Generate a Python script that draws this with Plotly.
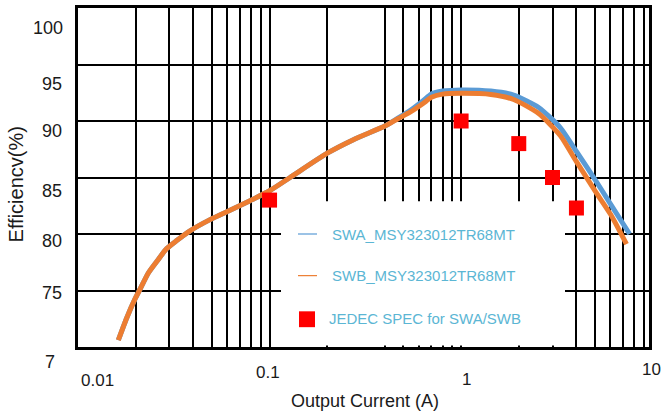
import math
import plotly.graph_objects as go

# ---- measured efficiency curves (output current in A, efficiency in %) ----
swb_current = [0.01623, 0.01796, 0.01985, 0.02108, 0.02329, 0.02576, 0.02905, 0.03277,
               0.03845, 0.04891, 0.06219, 0.07911, 0.1006, 0.128, 0.2, 0.274,
               0.4, 0.468, 0.544, 0.633, 0.7, 0.8, 1.0, 1.43, 1.88, 2.54,
               3.3, 4.0, 5.1, 6.05, 7.3]
swb_eff = [70.6, 72.57, 74.26, 75.11, 76.55, 77.56, 78.71, 79.42,
           80.28, 81.27, 82.1, 82.95, 83.85, 85.0, 87.15, 88.35,
           89.55, 90.2, 90.8, 91.55, 92.1, 92.38, 92.45, 92.35, 91.9, 90.66,
           88.7, 86.4, 83.6, 81.7, 79.1]

swa_current = [0.01623, 0.01796, 0.01985, 0.02108, 0.02329, 0.02576, 0.02905, 0.03277,
               0.03845, 0.04891, 0.06219, 0.07911, 0.1006, 0.128, 0.2, 0.274,
               0.4, 0.468, 0.544, 0.633, 0.7, 0.8, 1.0, 1.43, 1.88, 2.54,
               3.3, 4.0, 5.1, 6.05, 7.58]
swa_eff = [70.6, 72.57, 74.26, 75.11, 76.55, 77.56, 78.71, 79.42,
           80.28, 81.27, 82.1, 82.95, 83.85, 85.0, 87.15, 88.35,
           89.55, 90.25, 90.95, 91.8, 92.4, 92.65, 92.75, 92.65, 92.3, 91.2,
           89.4, 87.3, 84.6, 82.6, 80.0]

# JEDEC specification points
jedec_current = [0.1, 1, 2, 3, 4]
jedec_eff = [83, 90, 88, 85, 82.3]

# ---- axis ticks and labels ----
y_grid = [75, 80, 85, 90, 95]
y_tick_text = ["100", "95", "90", "85", "80", "75", "7"]
x_tick_text = ["0.01", "0.1", "1", "10"]
x_grid = [0.02, 0.03, 0.04, 0.05, 0.06, 0.07, 0.08, 0.09, 0.1,
          0.2, 0.4, 0.5, 0.6, 0.7, 0.8, 0.9, 1,
          2, 3, 4, 5, 6, 7, 8, 9]

legend_names = ["SWA_MSY323012TR68MT", "SWB_MSY323012TR68MT", "JEDEC SPEC for SWA/SWB"]

# ---- page geometry (pixels) ----
W, H = 662, 417
L, R, T, B = 78, 649, 5, 347

def fx(px):
    return (px - L) / (R - L)

def fy(py):
    return (B - py) / (B - T)

BLUE = "#5B9BD5"
ORANGE = "#ED7D31"
LEG_TEXT = "#5BB6D4"
FONT = "Liberation Sans, Arial, sans-serif"

fig = go.Figure()
fig.add_trace(go.Scatter(x=swa_current, y=swa_eff, mode="lines", name=legend_names[0],
                         line=dict(color=BLUE, width=5, shape="spline", smoothing=0.6)))
fig.add_trace(go.Scatter(x=swb_current, y=swb_eff, mode="lines", name=legend_names[1],
                         line=dict(color=ORANGE, width=5, shape="spline", smoothing=0.6)))
fig.add_trace(go.Scatter(x=jedec_current, y=jedec_eff, mode="markers", name=legend_names[2],
                         marker=dict(symbol="square", size=15, color="#FF0000",
                                     line=dict(width=0))))

shapes = [
    # white panel behind the legend, hiding the grid there
    dict(type="rect", xref="paper", yref="paper", x0=fx(281), x1=fx(565),
         y0=fy(345.4), y1=fy(200),
         fillcolor="white", line=dict(width=0), layer="above"),
    # legend samples
    dict(type="line", xref="paper", yref="paper", x0=fx(298), x1=fx(317), y0=fy(233), y1=fy(233),
         line=dict(color=BLUE, width=1.2), layer="above"),
    dict(type="line", xref="paper", yref="paper", x0=fx(298), x1=fx(317), y0=fy(275), y1=fy(275),
         line=dict(color=ORANGE, width=1.2), layer="above"),
    dict(type="rect", xref="paper", yref="paper", x0=fx(299), x1=fx(315), y0=fy(327), y1=fy(311),
         fillcolor="#FF0000", line=dict(width=0), layer="above"),
]

annotations = []
# y tick labels
y_label_pos = [(65, 25), (64, 82), (64, 129), (64, 190), (64, 240), (64, 293), (57, 362)]
for txt, (px, py) in zip(y_tick_text, y_label_pos):
    annotations.append(dict(text=txt, xref="paper", yref="paper", x=fx(px), y=fy(py),
                            xanchor="right", yanchor="middle", showarrow=False,
                            font=dict(family=FONT, size=18, color="#1a1a1a")))
# x tick labels
x_label_pos = [(97, 381), (268, 373), (466, 380), (651, 370)]
for txt, (px, py) in zip(x_tick_text, x_label_pos):
    annotations.append(dict(text=txt, xref="paper", yref="paper", x=fx(px), y=fy(py),
                            xanchor="center", yanchor="middle", showarrow=False,
                            font=dict(family=FONT, size=17, color="#1a1a1a")))
# axis titles
annotations.append(dict(text="Output Current (A)", xref="paper", yref="paper",
                        x=fx(365), y=fy(401), xanchor="center", yanchor="middle",
                        showarrow=False, font=dict(family=FONT, size=18, color="#1a1a1a")))
annotations.append(dict(text="Efficiencv(%)", xref="paper", yref="paper",
                        x=fx(16), y=fy(183), xanchor="center", yanchor="middle",
                        textangle=-90, showarrow=False,
                        font=dict(family=FONT, size=20, color="#1a1a1a")))
# legend texts
leg_pos = [(330, 233), (330, 275), (327, 318)]
for txt, (px, py) in zip(legend_names, leg_pos):
    annotations.append(dict(text=txt, xref="paper", yref="paper", x=fx(px), y=fy(py),
                            xanchor="left", yanchor="middle", showarrow=False,
                            font=dict(family=FONT, size=15, color=LEG_TEXT)))

fig.update_layout(
    width=W, height=H,
    margin=dict(l=L, r=W - R, t=T, b=H - B),
    paper_bgcolor="white", plot_bgcolor="white",
    showlegend=False,
    shapes=shapes, annotations=annotations,
    xaxis=dict(type="log", range=[-2, math.log10(9.57)], tickvals=x_grid,
               showticklabels=False, ticks="", showgrid=True, gridcolor="black",
               gridwidth=2, showline=True, linecolor="black", linewidth=3,
               mirror=True, zeroline=False, fixedrange=True),
    yaxis=dict(range=[70, 100], tickvals=y_grid, showticklabels=False, ticks="",
               showgrid=True, gridcolor="black", gridwidth=2, showline=True,
               linecolor="black", linewidth=3, mirror=True, zeroline=False,
               fixedrange=True),
)

fig.write_html("out.html")
